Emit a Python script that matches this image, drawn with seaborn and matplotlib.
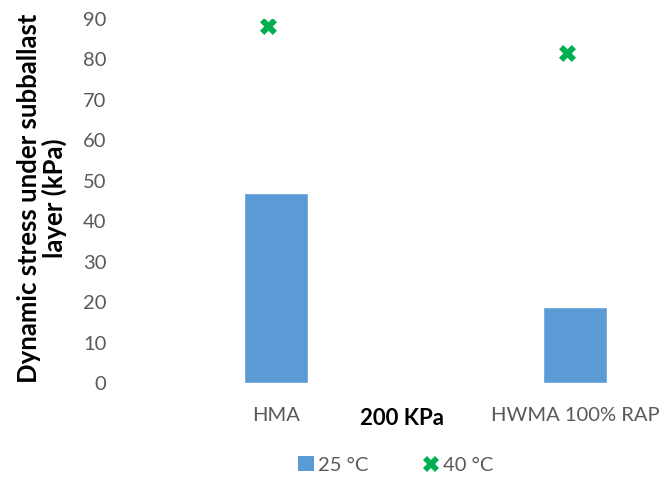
import matplotlib
matplotlib.use("Agg")
import matplotlib.pyplot as plt
import matplotlib.transforms as mtransforms
from matplotlib.lines import Line2D
from matplotlib.patches import Patch
import seaborn as sns
import pandas as pd

categories = ["HMA", "HWMA 100% RAP"]
stress_25C = [47.1, 18.7]
stress_40C = [88.2, 81.5]
series_names = ["25 °C", "40 °C"]
y_ticks = [0, 10, 20, 30, 40, 50, 60, 70, 80, 90]

sns.set_theme(style="white")
plt.rcParams["font.family"] = ["Lato", "DejaVu Sans"]

df25 = pd.DataFrame({"cat": categories, "val": stress_25C})
df40 = pd.DataFrame({"cat": categories, "val": stress_40C})

fig = plt.figure(figsize=(6.62, 4.8), dpi=100)
ax = fig.add_axes([126/662, 97/480, (662-126)/662, (383-19)/480])

blue = "#5B9BD5"
green = "#00B050"

sns.barplot(data=df25, x="cat", y="val", ax=ax, color=blue, width=0.214,
            saturation=1, order=categories)
offset = mtransforms.ScaledTranslation(-8/100, 0, fig.dpi_scale_trans)
sns.scatterplot(data=df40, x="cat", y="val", ax=ax, color=green, marker="X",
                s=150, linewidth=0, zorder=5)
for coll in ax.collections:
    coll.set_transform(coll.get_transform() + offset)

ax.set_xlim(-0.5, (662-276)/299)
ax.set_ylim(0, 90)
ax.set_yticks(y_ticks)
for s in ax.spines.values():
    s.set_visible(False)
ax.tick_params(axis="both", length=0, labelsize=14.5, colors="#595959")
ax.tick_params(axis="x", pad=17)
ax.tick_params(axis="y", pad=14)

ax.set_xlabel("200 KPa", fontsize=16, fontweight="bold", color="black")
ax.xaxis.set_label_coords((402-126)/(662-126), -0.07)
ax.set_ylabel("Dynamic stress under subballast\nlayer (kPa)", fontsize=18.5,
              fontweight="bold", color="black", linespacing=1.0,
              family=["Liberation Sans Narrow", "Lato", "DejaVu Sans"])
ax.yaxis.label.set_verticalalignment("center")
ax.yaxis.label.set_horizontalalignment("center")
ax.yaxis.label.set_multialignment("center")
ax.yaxis.set_label_coords((42-126)/536, (480-198-97)/364)

handles = [Patch(facecolor=blue, edgecolor="none"),
           Line2D([0], [0], marker="X", color="none", markerfacecolor=green,
                  markeredgewidth=0, markersize=12)]
fig.legend(handles, series_names, loc="center", bbox_to_anchor=(396/662, 15/480),
           ncol=2, frameon=False, fontsize=14.5, labelcolor="#595959",
           handlelength=0.8, handletextpad=0.2, columnspacing=2.7)

fig.savefig("out.png", dpi=100)
